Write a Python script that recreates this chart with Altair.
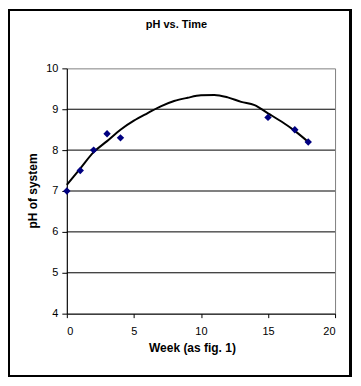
import altair as alt
import pandas as pd

# measured data points
weeks = [0, 1, 2, 3, 4, 15, 17, 18]
ph = [7.0, 7.5, 8.0, 8.4, 8.3, 8.8, 8.5, 8.2]

# trendline
trend_weeks = [0, 1, 2, 3, 4, 5, 6, 7, 8, 9, 10, 11, 12, 13, 14, 15, 16, 17, 18]
trend_ph = [7.15, 7.55, 7.95, 8.22, 8.5, 8.72, 8.9, 9.07, 9.2, 9.28, 9.34, 9.35,
            9.29, 9.18, 9.1, 8.9, 8.7, 8.47, 8.2]

grid_vals = [5, 6, 7, 8, 9]
y_ticks = [4, 5, 6, 7, 8, 9, 10]
x_ticks = [0, 5, 10, 15, 20]

title_text = "pH vs. Time"
x_title = "Week (as fig. 1)"
y_title = "pH of system"

FONT = "Arial, Liberation Sans, sans-serif"
W, H = 269, 246

pts = pd.DataFrame({"week": weeks, "ph": ph})
trend = pd.DataFrame({"week": trend_weeks, "ph": trend_ph})
grid = pd.DataFrame({"g": grid_vals})

xs = alt.Scale(domain=[0, 20], nice=False)
ys = alt.Scale(domain=[4, 10], nice=False)

xaxis = alt.Axis(values=x_ticks, title=None, grid=False, domainColor="black",
                 tickColor="black", tickSize=4, labelPadding=8,
                 labelFont=FONT, labelFontSize=11, labelColor="black", domainWidth=1)
yaxis = alt.Axis(values=y_ticks, title=None, grid=False, domainColor="black",
                 tickColor="black", tickSize=5, labelPadding=4,
                 labelFont=FONT, labelFontSize=11, labelColor="black", domainWidth=1)

gridlines = alt.Chart(grid).mark_rule(color="black", strokeWidth=1).encode(
    y=alt.Y("g:Q", scale=ys, axis=yaxis),
)

line = alt.Chart(trend).mark_line(color="black", strokeWidth=2, interpolate="monotone").encode(
    x=alt.X("week:Q", scale=xs, axis=xaxis),
    y=alt.Y("ph:Q", scale=ys, axis=yaxis),
)

points = alt.Chart(pts).mark_point(shape="diamond", filled=True, color="#000080",
                                   size=55, opacity=1).encode(
    x=alt.X("week:Q", scale=xs, axis=xaxis),
    y=alt.Y("ph:Q", scale=ys, axis=yaxis),
)

frame = alt.Chart(pts).mark_rect(fill=None, stroke="black", strokeWidth=2, clip=False).encode(
    x=alt.value(-58), x2=alt.value(284.5), y=alt.value(-58.5), y2=alt.value(308.5)
)

def label(text, x, y, size, angle=0):
    return alt.Chart(pd.DataFrame({"t": [text]})).mark_text(
        font=FONT, fontSize=size, fontWeight="bold", color="black",
        angle=angle, align="center", baseline="middle"
    ).encode(text="t:N", x=alt.value(x), y=alt.value(y))

chart = alt.layer(
    gridlines, line, points, frame,
    label(title_text, 110, -43, 11),
    label(x_title, 126, 280, 12),
    label(y_title, -34, 123, 12, angle=270),
).properties(
    width=W, height=H,
    autosize=alt.AutoSizeParams(type="none"),
    padding={"left": 59, "top": 60, "right": 18, "bottom": 64},
    background="white",
).configure_view(stroke="#808080", strokeWidth=1, fill="white")

chart.save("out.html", embed_options={"renderer": "svg", "actions": False})
